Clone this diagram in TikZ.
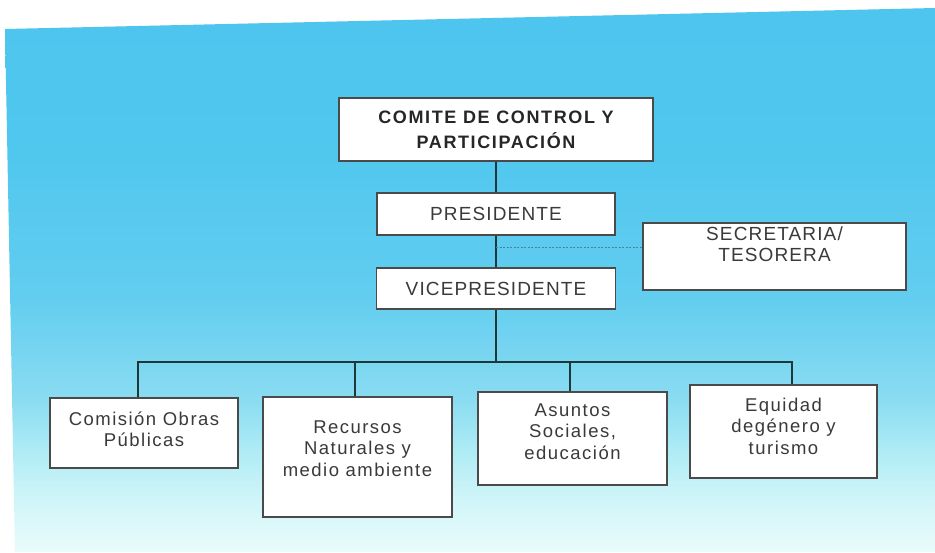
\documentclass[tikz,border=0pt]{standalone}
\usepackage{fontspec}
\setmainfont[LetterSpace=6]{Liberation Sans}
\definecolor{bgtop}{HTML}{4DC5EE}
\definecolor{bgup}{HTML}{50C7EE}
\definecolor{bgmid}{HTML}{62CDEF}
\definecolor{bglow}{HTML}{8ADCF1}
\definecolor{bglow2}{HTML}{ADEBF5}
\definecolor{bglow3}{HTML}{CFF5F8}
\definecolor{bgbot}{HTML}{EAFBFB}
\definecolor{linec}{HTML}{1E3838}
\definecolor{boxc}{HTML}{4A4A4A}
\definecolor{txtc}{HTML}{3A3A3A}
\definecolor{dashc}{HTML}{4F7F9A}
\pgfdeclareverticalshading{bgshade}{100bp}{color(0bp)=(bgbot); color(25bp)=(bgbot); color(30bp)=(bglow3); color(34.5bp)=(bglow2); color(39bp)=(bglow); color(48.5bp)=(bgmid); color(62bp)=(bgup); color(75bp)=(bgtop); color(100bp)=(bgtop)}
\tikzset{
  box/.style={draw=boxc, line width=1.3pt, fill=white, inner sep=0pt},
  conn/.style={draw=linec, line width=2.2pt},
  dotconn/.style={draw=dashc, line width=0.9pt, dash pattern=on 2pt off 1.5pt},
  toptxt/.style={text=txtc, font=\fontsize{19}{25}\selectfont},
  lowtxt/.style={text=txtc, align=center, font=\addfontfeature{LetterSpace=8}\fontsize{18.5}{21.5}\selectfont, inner sep=0pt},
}
\begin{document}
\begin{tikzpicture}[x=1pt,y=-1pt]
\useasboundingbox (0,0) rectangle (935,553);
\fill[white] (0,0) rectangle (935,553);
\shade[shading=bgshade] (5,29) -- (935,8) -- (935,552) -- (15,552) -- cycle;

% top boxes
\node[box, minimum width=314pt, minimum height=63pt, align=center,
  font=\bfseries\addfontfeature{LetterSpace=9}\fontsize{18}{25}\selectfont, text=black!85] (comite) at (496,129.5)
  {COMITE DE CONTROL Y\\PARTICIPACIÓN};
\node[box, minimum width=238pt, minimum height=42pt, toptxt] (pres) at (496,214) {PRESIDENTE};
\node[box, minimum width=239pt, minimum height=41pt, toptxt] (vice) at (496,288.5) {VICEPRESIDENTE};
\node[box, minimum width=263pt, minimum height=67pt] (sec) at (774.5,256.5) {};
\node[lowtxt, font=\fontsize{19}{21}\selectfont] (sect) at (774.5,244) {SECRETARIA/\\TESORERA};

% bottom boxes
\node[box, minimum width=188pt, minimum height=70pt] (b1) at (144,433) {};
\node[box, minimum width=189pt, minimum height=120pt] (b2) at (357.5,457) {};
\node[box, minimum width=189pt, minimum height=93pt] (b3) at (572.5,438.5) {};
\node[box, minimum width=187pt, minimum height=93pt] (b4) at (783.5,431.5) {};
\node[lowtxt] (t1) at (144,429.5) {Comisión Obras\\Públicas};
\node[lowtxt] (t2) at (357.5,448.5) {Recursos\\Naturales y\\medio ambiente};
\node[lowtxt] (t3) at (572.5,431.5) {Asuntos\\Sociales,\\educación};
\node[lowtxt] (t4) at (783.5,426) {Equidad\\degénero y\\turismo};

% connectors
\coordinate (bar) at (496,362);
\coordinate (dj) at (496,247);
\coordinate (d1) at (138,362);
\coordinate (d2) at (355,362);
\coordinate (d3) at (570,362);
\coordinate (d4) at (792,362);
\draw[conn] (comite.south) -- (pres.north);
\draw[conn] (pres.south) -- (vice.north);
\draw[conn] (vice.south) -- (bar);
\draw[dotconn] (dj) -- (dj -| sec.west);
\draw[conn, line cap=rect] (d1) -- (d4);
\draw[conn] (d1) -- (d1 |- b1.north);
\draw[conn] (d2) -- (d2 |- b2.north);
\draw[conn] (d3) -- (d3 |- b3.north);
\draw[conn] (d4) -- (d4 |- b4.north);
\end{tikzpicture}
\end{document}
